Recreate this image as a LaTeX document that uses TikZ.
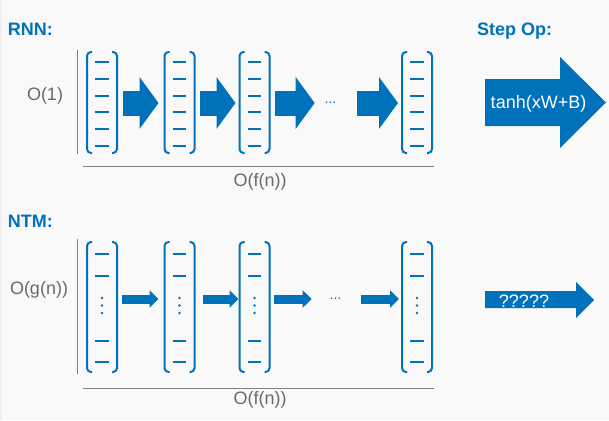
\documentclass[tikz,border=0pt]{standalone}
\usepackage{fontspec}
\setmainfont{Liberation Sans}
\usetikzlibrary{arrows.meta,calc}
\definecolor{bl}{RGB}{0,114,188}
\definecolor{tg}{RGB}{105,105,105}
\definecolor{lg}{RGB}{128,128,128}
\definecolor{bgc}{RGB}{249,249,249}
\begin{document}
\begin{tikzpicture}[x=1pt,y=-1pt,
  every node/.style={inner sep=0pt,outer sep=0pt,font=\fontsize{18}{20}\selectfont},
  vecR/.style={minimum width=30pt,minimum height=101pt},
  vecN/.style={minimum width=30pt,minimum height=130pt},
  brk/.style={draw=bl,line width=2pt,rounded corners=4pt},
  dsh/.style={draw=bl,line width=2pt},
  blkR/.style={draw=bl,line width=25pt,-{Triangle[length=19pt,width=51pt]}},
  blkN/.style={draw=bl,line width=9pt,-{Triangle[length=9pt,width=17pt]}},
  title/.style={text=bl,font=\fontsize{18}{20}\selectfont\bfseries,anchor=base west},
  glab/.style={text=tg},
  axis/.style={draw=lg,line width=1pt}]
\fill[bgc] (0,0) rectangle (609,420);
\fill[black!6] (0,0) rectangle (2,420);
\useasboundingbox (0,0) rectangle (609,420);

% ---------- RNN ----------
\node[title] (trnn) at (8,35) {RNN:};
\node[title] (tstep) at (477,35) {Step Op:};
\node[glab,anchor=base west] (o1) at (27,100) {O(1)};
\node[vecR] (r1) at (102,102.5) {};
\node[vecR] (r2) at (179.5,102.5) {};
\node[vecR] (r3) at (254.5,102.5) {};
\node[vecR] (r4) at (417,102.5) {};
\node[text=bl,font=\fontsize{14}{16}\selectfont] (rdots) at (330.5,103) {...};
\foreach \n in {r1,r2,r3,r4}{
  \draw[brk] ($(\n.north west)+(5,0)$) -- (\n.north west) -- (\n.south west) -- ($(\n.south west)+(5,0)$);
  \draw[brk] ($(\n.north east)+(-5,0)$) -- (\n.north east) -- (\n.south east) -- ($(\n.south east)+(-5,0)$);
  \foreach \dy in {10,26.8,43.6,60.4,77.2,94}{
    \draw[dsh] ($(\n.north)+(-7,\dy)$) -- ($(\n.north)+(6.5,\dy)$);
  }
}
\draw[blkR] ($(r1.east)+(6,0.5)$) -- ($(r2.west)+(-6,0.5)$);
\draw[blkR] ($(r2.east)+(5,0.5)$) -- ($(r3.west)+(-4,0.5)$);
\draw[blkR] ($(r3.east)+(5,0.5)$) -- ($(rdots.west)+(-10,0)$);
\draw[blkR] ($(rdots.east)+(21,0)$) -- ($(r4.west)+(-4,0.5)$);
\coordinate (ra1) at (77,50);
\coordinate (ra2) at (77,154);
\draw[axis] (ra1) -- (ra2);
\coordinate (rb1) at (83,166);
\coordinate (rb2) at (434,166);
\draw[axis] (rb1) -- (rb2);
\node[glab,anchor=base] (rfn) at (260,186) {O(f(n))};

% Step op arrow
\fill[bl] (485,79) -- (560,79) -- (560,57) -- (606,102.5) -- (560,148) -- (560,126) -- (485,126) -- cycle;
\node[text=white,anchor=base] (tanh) at (538.5,108) {tanh(xW+B)};

% ---------- NTM ----------
\node[title] (tntm) at (8,227) {NTM:};
\node[glab,anchor=base west] (og) at (10,294) {O(g(n))};
\node[vecN] (n1) at (102,307) {};
\node[vecN] (n2) at (179.5,307) {};
\node[vecN] (n3) at (254.5,307) {};
\node[vecN] (n4) at (417,307) {};
\node[text=bl,font=\fontsize{14}{16}\selectfont] (ndots) at (335.5,299) {...};
\foreach \n in {n1,n2,n3,n4}{
  \draw[brk] ($(\n.north west)+(5,0)$) -- (\n.north west) -- (\n.south west) -- ($(\n.south west)+(5,0)$);
  \draw[brk] ($(\n.north east)+(-5,0)$) -- (\n.north east) -- (\n.south east) -- ($(\n.south east)+(-5,0)$);
  \foreach \dy in {12,34,99,120}{
    \draw[dsh] ($(\n.north)+(-7,\dy)$) -- ($(\n.north)+(6.5,\dy)$);
  }
  \foreach \dy in {56,63.5,71}{
    \fill[bl] ($(\n.north)+(0,\dy)$) circle (1.3);
  }
}
\draw[blkN] ($(n1.east)+(5,-8)$) -- ($(n2.west)+(-6,-8)$);
\draw[blkN] ($(n2.east)+(8,-8)$) -- ($(n3.west)+(-1,-8)$);
\draw[blkN] ($(n3.east)+(4,-8)$) -- ($(ndots.west)+(-18,0)$);
\draw[blkN] ($(ndots.east)+(20,0)$) -- ($(n4.west)+(-3,-8)$);
\coordinate (na1) at (77,239);
\coordinate (na2) at (77,374);
\draw[axis] (na1) -- (na2);
\coordinate (nb1) at (83,388);
\coordinate (nb2) at (434,388);
\draw[axis] (nb1) -- (nb2);
\node[glab,anchor=base] (nfn) at (260,404) {O(f(n))};

% ????? arrow
\fill[bl] (485,291) -- (576,291) -- (576,282) -- (594,300) -- (576,318) -- (576,308) -- (485,308) -- cycle;
\node[text=white,anchor=base] (qq) at (524,307) {?????};
\end{tikzpicture}
\end{document}
